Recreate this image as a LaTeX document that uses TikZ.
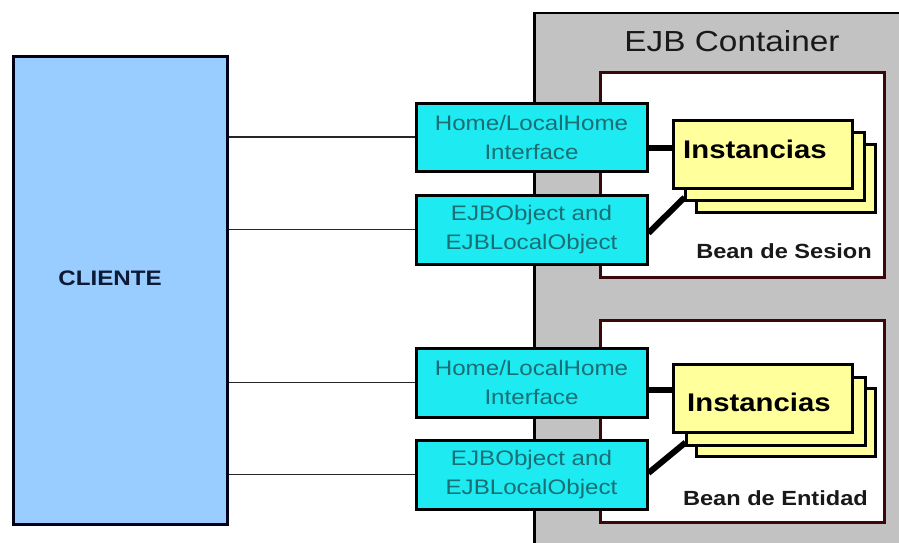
\documentclass[tikz,border=0pt]{standalone}
\usepackage{fontspec}
\setmainfont[FakeStretch=1.15]{Liberation Sans}
\definecolor{clientblue}{HTML}{99CCFF}
\definecolor{ifacecyan}{HTML}{1EEAF2}
\definecolor{ifacetext}{HTML}{1A6E74}
\definecolor{containergray}{HTML}{C2C2C2}
\definecolor{beanborder}{HTML}{3A0808}
\definecolor{instyellow}{HTML}{FFFF9C}
\definecolor{clienttext}{HTML}{0C1A36}
\pgfdeclarelayer{stack}
\pgfsetlayers{main,stack}
\tikzset{
  clientbox/.style={draw=black!90!blue, line width=3pt, fill=clientblue,
    minimum width=214pt, minimum height=467pt, inner sep=0pt},
  containerbox/.style={draw=black, line width=2.5pt, fill=containergray,
    minimum width=420pt, minimum height=560pt, inner sep=0pt},
  beanbox/.style={draw=beanborder, line width=3pt, fill=white,
    minimum width=284pt, inner sep=0pt},
  ifacebox/.style={draw=black, line width=3pt, fill=ifacecyan,
    minimum width=231pt, minimum height=68pt, inner sep=0pt, align=center,
    text=ifacetext, font=\fontsize{21}{29}\selectfont},
  instbox/.style={draw=black, line width=3pt, fill=instyellow,
    minimum width=179pt, minimum height=68pt, inner sep=0pt},
  insttext/.style={anchor=base west, inner sep=0pt,
    font=\bfseries\fontsize{25.5}{30}\selectfont},
  beanlabel/.style={anchor=base east, inner sep=0pt,
    font=\bfseries\fontsize{20.5}{24}\selectfont, text=black!90},
  clientlink/.style={draw=black!85, line width=1.6pt},
  beanlink/.style={draw=black, line width=6pt},
}
\begin{document}
\begin{tikzpicture}[x=1pt, y=-1pt]
  \clip (0,0) rectangle (899,543);
  \fill[white] (0,0) rectangle (899,543);

  % container and the two bean areas
  \node[containerbox, anchor=north west] (ejb) at (533,12) {};
  \node[anchor=base, inner sep=0pt, font=\fontsize{29}{34}\selectfont, text=black!90]
    (ejbtitle) at (732,52) {EJB Container};
  \node[beanbox, minimum height=205pt] (sesion) at (742,174.5) {};
  \node[beanbox, minimum height=202pt] (entidad) at (742,421) {};

  % client
  \node[clientbox] (cliente) at (120,290.5) {};
  \node[anchor=base, inner sep=0pt, font=\bfseries\fontsize{21}{25}\selectfont,
    text=clienttext] (clientetext) at (110,285) {CLIENTE};

  % interfaces
  \node[ifacebox] (home1) at (531.5,137) {Home/LocalHome\\Interface};
  \node[ifacebox, minimum height=69pt] (obj1) at (531.5,229.5) {EJBObject and\\EJBLocalObject};
  \node[ifacebox, minimum height=69pt] (home2) at (531.5,382.5) {Home/LocalHome\\Interface};
  \node[ifacebox, minimum height=69pt] (obj2) at (531.5,474.5) {EJBObject and\\EJBLocalObject};

  % client connections
  \draw[clientlink] (cliente.east |- home1.west) -- (home1.west);
  \draw[clientlink] (cliente.east |- obj1.west) -- (obj1.west);
  \draw[clientlink] (cliente.east |- home2.west) -- (home2.west);
  \draw[clientlink] (cliente.east |- obj2.west) -- (obj2.west);

  % stacked bean instances, kept above the links
  \begin{pgfonlayer}{stack}
    \node[instbox] (inst1c) at (785.5,178) {};
    \node[instbox] (inst1b) at (774.5,166) {};
    \node[instbox] (inst1a) at (762.5,154) {};
    \node[insttext] (insttext1) at (683,158) {Instancias};

    \node[instbox] (inst2c) at (786,422.5) {};
    \node[instbox] (inst2b) at (775.5,411) {};
    \node[instbox] (inst2a) at (763,398.5) {};
    \node[insttext] (insttext2) at (687,411) {Instancias};
  \end{pgfonlayer}

  % links from interfaces to instances
  \draw[beanlink] ([yshift=6pt]inst1a.west -| home1.east) -- ([yshift=6pt]inst1a.west);
  \draw[beanlink] ([yshift=-3.5pt]obj1.east) -- ([shift={(1pt,4pt)}]inst1b.south west);
  \draw[beanlink] ([yshift=8.5pt]inst2a.west -| home2.east) -- ([yshift=8.5pt]inst2a.west);
  \draw[beanlink] ([yshift=1.5pt]obj2.east) -- ([shift={(1pt,4pt)}]inst2b.south west);

  \node[beanlabel] (sesionlabel) at (872,258) {Bean de Sesion};
  \node[beanlabel] (entidadlabel) at (868,505) {Bean de Entidad};
\end{tikzpicture}
\end{document}
